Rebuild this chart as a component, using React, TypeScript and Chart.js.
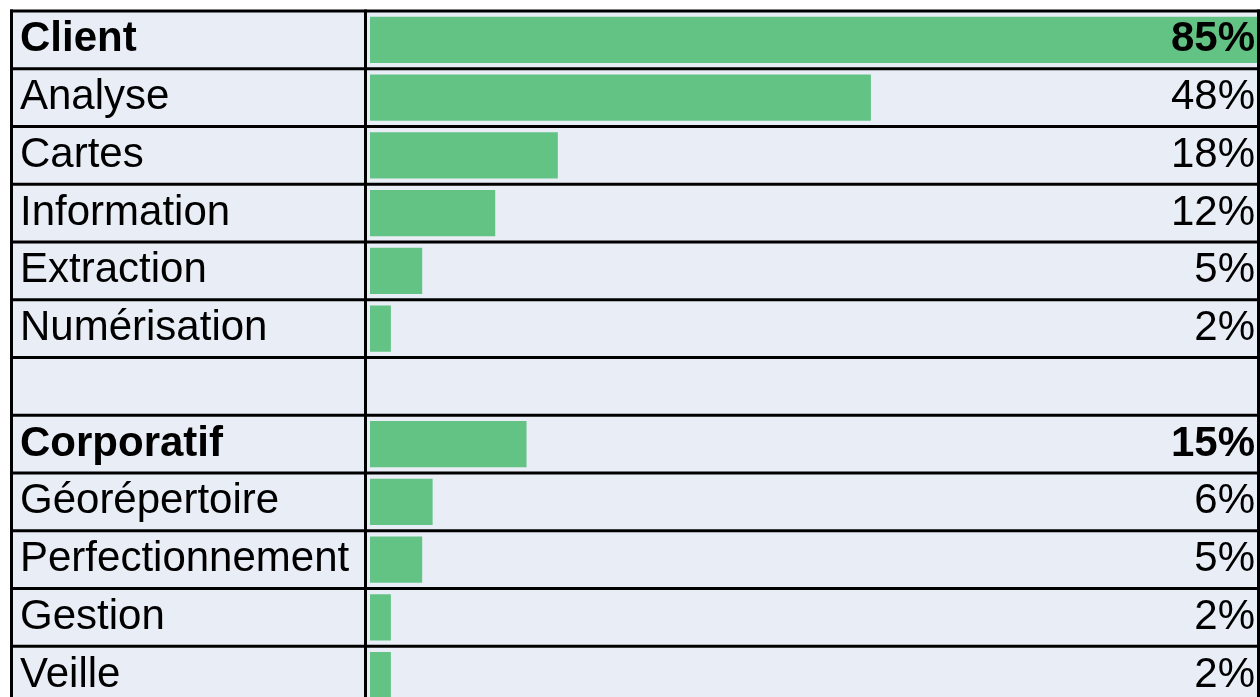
import React, { useEffect, useRef } from "react";
import { Chart, registerables } from "chart.js";

Chart.register(...registerables);

const categories = [
  "Client",
  "Analyse",
  "Cartes",
  "Information",
  "Extraction",
  "Numérisation",
  "",
  "Corporatif",
  "Géorépertoire",
  "Perfectionnement",
  "Gestion",
  "Veille",
];
const shares: (number | null)[] = [85, 48, 18, 12, 5, 2, null, 15, 6, 5, 2, 2];
const boldRows = ["Client", "Corporatif"];
const percentLabels = shares.map((v) => (v === null ? "" : `${v}%`));

const FONT = "'Liberation Sans', Arial, sans-serif";
const BG = "#E9EDF6";
const BAR = "#63C384";

const tablePlugin = {
  id: "tableFrame",
  beforeDraw(chart: any) {
    const { ctx, scales } = chart;
    const y = scales.y;
    const step = y.getPixelForValue(1) - y.getPixelForValue(0);
    const topLine = y.getPixelForValue(0) - step / 2;
    ctx.save();
    ctx.fillStyle = "#ffffff";
    ctx.fillRect(0, 0, chart.width, chart.height);
    ctx.fillStyle = BG;
    ctx.fillRect(11, topLine, chart.width - 11, chart.height - topLine);
    ctx.restore();
  },
  afterDatasetsDraw(chart: any) {
    const { ctx, scales, chartArea } = chart;
    const y = scales.y;
    const step = y.getPixelForValue(1) - y.getPixelForValue(0);
    const n = categories.length;
    const topLine = y.getPixelForValue(0) - step / 2;
    ctx.save();
    ctx.strokeStyle = "#000";
    ctx.lineWidth = 3;
    for (let i = 0; i <= n; i++) {
      const py = topLine + i * step;
      ctx.beginPath();
      ctx.moveTo(10, py);
      ctx.lineTo(chart.width, py);
      ctx.stroke();
    }
    const verticals = [11.5, 365.5, 1258.5];
    for (const vx of verticals) {
      ctx.beginPath();
      ctx.moveTo(vx, topLine - 1.5);
      ctx.lineTo(vx, chart.height);
      ctx.stroke();
    }
    // percent labels
    ctx.fillStyle = "#000";
    ctx.textAlign = "right";
    ctx.textBaseline = "middle";
    percentLabels.forEach((txt, i) => {
      if (!txt) return;
      const bold = boldRows.includes(categories[i]);
      ctx.font = `${bold ? "bold " : ""}42px ${FONT}`;
      ctx.fillText(txt, chartArea.right - 2, y.getPixelForValue(i));
    });
    ctx.restore();
  },
};

export default function App() {
  const ref = useRef<HTMLCanvasElement | null>(null);

  useEffect(() => {
    if (!ref.current) return;
    const chart = new Chart(ref.current, {
      type: "bar",
      data: {
        labels: categories,
        datasets: [
          {
            data: shares,
            backgroundColor: BAR,
            borderWidth: 0,
            barPercentage: 0.8,
            categoryPercentage: 1,
          },
        ],
      },
      options: {
        indexAxis: "y",
        animation: false,
        responsive: false,
        maintainAspectRatio: false,
        devicePixelRatio: 1,
        layout: { padding: { left: 20, top: 11, right: 3, bottom: 2 } },
        plugins: {
          legend: { display: false },
          tooltip: { enabled: false },
        },
        scales: {
          x: {
            display: false,
            min: 0,
            max: 85,
          },
          y: {
            grid: { display: false },
            border: { display: false },
            afterFit: (scale: any) => {
              scale.width = 350;
              scale.paddingTop = 0;
              scale.paddingBottom = 0;
            },
            ticks: {
              autoSkip: false,
              crossAlign: "far",
              color: "#000",
              padding: 0,
              font: (ctx: any) => ({
                family: FONT,
                size: 42,
                weight: boldRows.includes(categories[ctx.index]) ? "bold" : "normal",
              }),
            },
          },
        },
      },
      plugins: [tablePlugin],
    } as any);
    return () => chart.destroy();
  }, []);

  return (
    <div
      style={{
        position: "fixed",
        left: 0,
        top: 0,
        width: 1260,
        height: 697,
        overflow: "hidden",
        background: "#fff",
      }}
    >
      <canvas ref={ref} width={1260} height={706} style={{ display: "block" }} />
    </div>
  );
}
